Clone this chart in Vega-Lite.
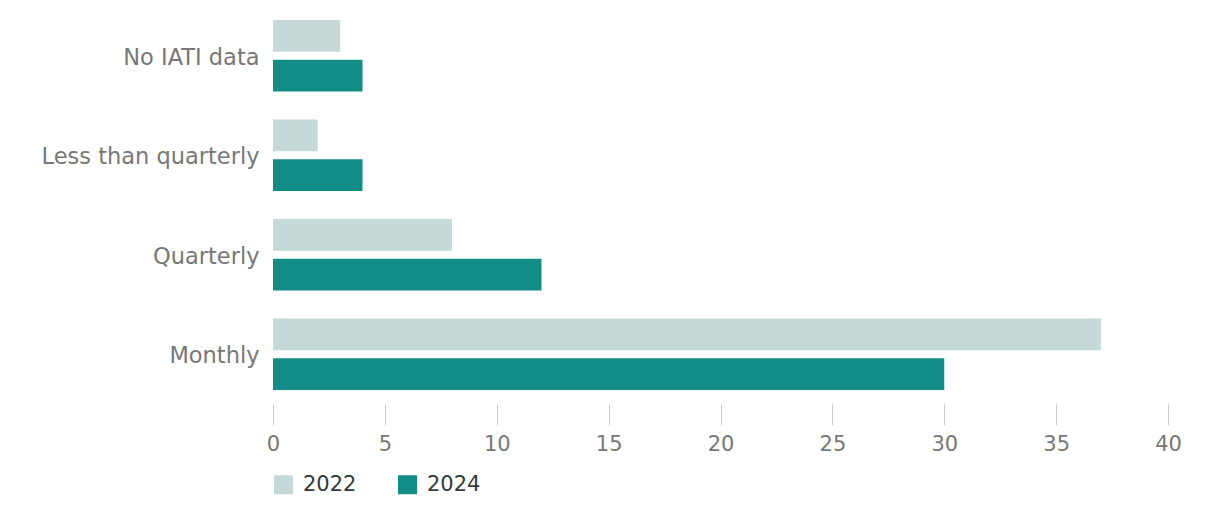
{
  "$schema": "https://vega.github.io/schema/vega-lite/v6.json",
  "autosize": "none",
  "width": 895,
  "height": 398,
  "padding": {"left": 273, "top": 6, "right": 44, "bottom": 113},
  "background": "white",
  "data": {
    "values": [
      {"category": "No IATI data", "year": "2022", "value": 3},
      {"category": "No IATI data", "year": "2024", "value": 4},
      {"category": "Less than quarterly", "year": "2022", "value": 2},
      {"category": "Less than quarterly", "year": "2024", "value": 4},
      {"category": "Quarterly", "year": "2022", "value": 8},
      {"category": "Quarterly", "year": "2024", "value": 12},
      {"category": "Monthly", "year": "2022", "value": 37},
      {"category": "Monthly", "year": "2024", "value": 30}
    ]
  },
  "mark": {"type": "bar"},
  "encoding": {
    "y": {
      "field": "category",
      "type": "nominal",
      "sort": ["No IATI data", "Less than quarterly", "Quarterly", "Monthly"],
      "scale": {"paddingInner": 0.28, "paddingOuter": 0.14},
      "axis": {
        "title": null,
        "domain": false,
        "ticks": false,
        "labelPadding": 14,
        "labelLimit": 400,
        "labelFontSize": 22.5,
        "labelFont": "DejaVu Sans",
        "labelColor": "#777777",
        "labelOffset": 2
      }
    },
    "yOffset": {
      "field": "year",
      "type": "nominal",
      "scale": {"paddingInner": 0.2, "paddingOuter": 0}
    },
    "x": {
      "field": "value",
      "type": "quantitative",
      "scale": {"domain": [0, 40], "nice": false},
      "axis": {
        "title": null,
        "domain": false,
        "grid": false,
        "values": [0, 5, 10, 15, 20, 25, 30, 35, 40],
        "labelFlush": false,
        "tickSize": 21,
        "tickColor": "#cccccc",
        "tickWidth": 1,
        "labelPadding": 8,
        "labelFontSize": 21,
        "labelFont": "DejaVu Sans",
        "labelColor": "#777777"
      }
    },
    "color": {
      "field": "year",
      "type": "nominal",
      "scale": {"domain": ["2022", "2024"], "range": ["#c6d9d9", "#128c87"]},
      "legend": {
        "title": null,
        "orient": "bottom",
        "direction": "horizontal",
        "symbolType": "square",
        "symbolSize": 361,
        "symbolStrokeWidth": 0,
        "labelFontSize": 21,
        "labelFont": "DejaVu Sans",
        "labelColor": "#343a40",
        "labelOffset": 9,
        "columnPadding": 40,
        "offset": 20
      }
    }
  },
  "config": {
    "view": {"stroke": null}
  }
}
